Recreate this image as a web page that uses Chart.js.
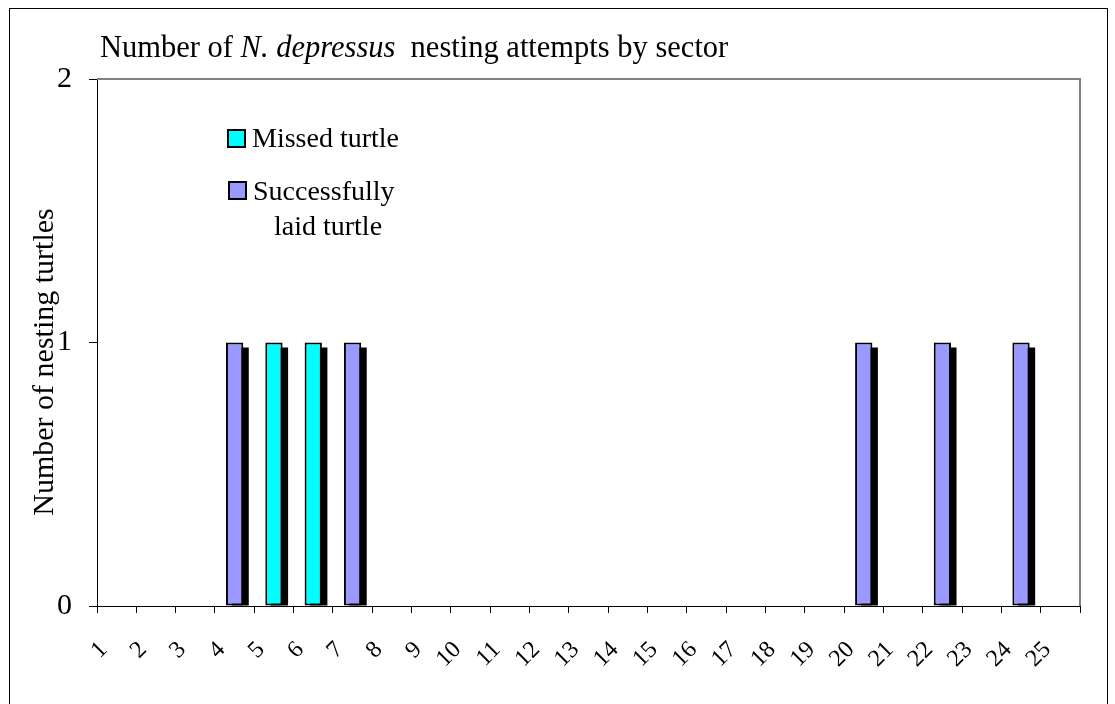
<!DOCTYPE html>
<html>
<head>
<meta charset="utf-8">
<script src="https://cdn.jsdelivr.net/npm/chart.js@4/dist/chart.umd.min.js"></script>
<style>
  html, body { margin: 0; padding: 0; background: #fff; }
  #wrap { position: relative; width: 1115px; height: 704px; }
  canvas { display: block; }
</style>
</head>
<body>
<div id="wrap"><canvas id="c" width="1115" height="704"></canvas></div>
<script>
// ---- data ----
const sectors = ['1','2','3','4','5','6','7','8','9','10','11','12','13','14','15','16','17','18','19','20','21','22','23','24','25'];
const missedTurtle = [0,0,0,0,1,1,0,0,0,0,0,0,0,0,0,0,0,0,0,0,0,0,0,0,0];
const laidTurtle   = [0,0,0,1,0,0,1,0,0,0,0,0,0,0,0,0,0,0,0,1,0,1,0,1,0];
const seriesLabels = ['Missed turtle', 'Successfully laid turtle'];
const legendLines = [['Missed turtle'], ['Successfully', '   laid turtle']];
const yTicks = [0, 1, 2];
const titleParts = [['Number of ', false], ['N. depressus', true], ['  nesting attempts by sector', false]];
const yTitle = 'Number of nesting turtles';

const SERIF = '"Liberation Serif", "Times New Roman", serif';
const cyan = '#00FFFF';
const lilac = '#9999FF';

const decor = {
  id: 'decor',
  beforeDraw(chart) {
    const ctx = chart.ctx;
    ctx.save();
    ctx.fillStyle = '#fff';
    ctx.fillRect(0, 0, chart.width, chart.height);
    // outer frame
    ctx.strokeStyle = '#000';
    ctx.lineWidth = 1;
    ctx.strokeRect(9.5, 8.5, 1098, 800);
    ctx.restore();
  },
  beforeDatasetsDraw(chart) {
    const ctx = chart.ctx;
    ctx.save();
    ctx.fillStyle = '#000';
    chart.data.datasets.forEach((ds, i) => {
      const meta = chart.getDatasetMeta(i);
      meta.data.forEach((bar, j) => {
        if (!ds.data[j]) return;
        const p = bar.getProps(['x', 'y', 'base', 'width'], true);
        ctx.fillRect(p.x - p.width / 2 + 5.5, p.y + 5, p.width, p.base - p.y - 5);
      });
    });
    ctx.restore();
  },
  afterDraw(chart) {
    const ctx = chart.ctx;
    const a = chart.chartArea;
    ctx.save();
    // plot border top & right (grey)
    ctx.strokeStyle = '#808080';
    ctx.lineWidth = 2;
    ctx.beginPath();
    ctx.moveTo(a.left, a.top);
    ctx.lineTo(a.right, a.top);
    ctx.lineTo(a.right, a.bottom);
    ctx.stroke();

    // title
    ctx.fillStyle = '#000';
    ctx.textBaseline = 'alphabetic';
    let x = 100;
    titleParts.forEach(([t, it]) => {
      ctx.font = (it ? 'italic ' : '') + '30.5px ' + SERIF;
      ctx.fillText(t, x, 57);
      x += ctx.measureText(t).width;
    });

    // y-axis title
    ctx.save();
    ctx.font = '30px ' + SERIF;
    ctx.translate(53, 362);
    ctx.rotate(-Math.PI / 2);
    ctx.textAlign = 'center';
    ctx.fillText(yTitle, 0, 0);
    ctx.restore();

    // legend
    const boxes = [[227, 129], [228, 181]];
    const textPos = [[[252, 147]], [[253, 200], [253, 235]]];
    ctx.font = '28px ' + SERIF;
    chart.data.datasets.forEach((ds, i) => {
      const [bx, by] = boxes[i];
      ctx.fillStyle = ds.backgroundColor;
      ctx.fillRect(bx, by, 19, 19);
      ctx.strokeStyle = '#000';
      ctx.lineWidth = 2;
      ctx.strokeRect(bx + 1, by + 1, 17, 17);
      ctx.fillStyle = '#000';
      legendLines[i].forEach((line, k) => {
        const [tx, ty] = textPos[i][k];
        ctx.fillText(line, tx, ty);
      });
    });
    ctx.restore();
  }
};

new Chart(document.getElementById('c'), {
  type: 'bar',
  data: {
    labels: sectors,
    datasets: [
      { label: seriesLabels[0], data: missedTurtle, backgroundColor: cyan, borderColor: '#000', borderWidth: 2, borderSkipped: false },
      { label: seriesLabels[1], data: laidTurtle, backgroundColor: lilac, borderColor: '#000', borderWidth: 2, borderSkipped: false }
    ]
  },
  options: {
    responsive: false,
    animation: false,
    events: [],
    layout: { padding: { top: 79, right: 35, left: 0, bottom: 0 } },
    categoryPercentage: 1.0,
    barPercentage: 0.44,
    plugins: { legend: { display: false }, title: { display: false }, tooltip: { enabled: false } },
    scales: {
      x: {
        stacked: true,
        offset: true,
        afterFit: s => { s.height = 98; },
        grid: { offset: true, drawOnChartArea: false, tickLength: 7, color: '#000', lineWidth: 1 },
        border: { color: '#000', width: 1 },
        ticks: {
          autoSkip: false, maxRotation: 45, minRotation: 45,
          font: { family: SERIF, size: 24 }, color: '#000',
          padding: 23, labelOffset: -13
        }
      },
      y: {
        stacked: true,
        min: 0, max: 2,
        afterFit: s => { s.width = 97; },
        afterBuildTicks: s => { s.ticks = yTicks.map(v => ({ value: v })); },
        grid: { drawOnChartArea: false, tickLength: 8, color: '#000', lineWidth: 1 },
        border: { color: '#000', width: 1 },
        ticks: { font: { family: SERIF, size: 30 }, color: '#000', padding: 17 }
      }
    }
  },
  plugins: [decor]
});
</script>
</body>
</html>
